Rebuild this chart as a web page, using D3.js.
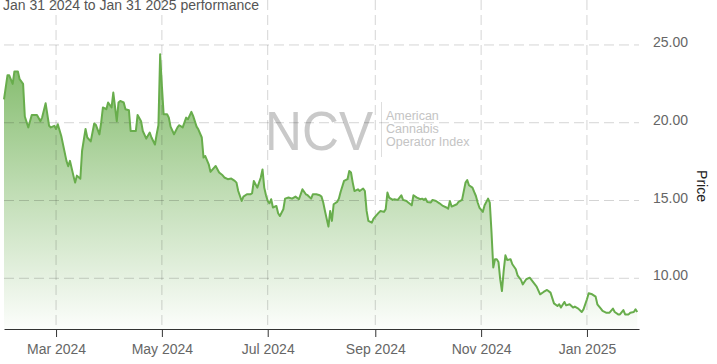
<!DOCTYPE html>
<html>
<head>
<meta charset="utf-8">
<script src="https://cdn.jsdelivr.net/npm/d3@7"></script>
<style>
    body { margin: 0; background: #fff; }
    svg text { font-family: "Liberation Sans", Arial, sans-serif; }
    .tick-label { font-size: 14px; fill: #666; }
    .grid-line { stroke: #000; stroke-opacity: 0.17; stroke-dasharray: 10,5; }
</style>
</head>
<body>
<div id="priceChartDiv"></div>
<script>
const titleText = 'Jan 31 2024 to Jan 31 2025 performance';
const yLabel = 'Price';
const watermarkTitle = 'NCV';
const watermarkLines = ['American', 'Cannabis', 'Operator Index'];

const priceTicks = [10, 15, 20, 25];
const monthTicks = ['2024-03-01', '2024-05-01', '2024-07-01', '2024-09-01', '2024-11-01', '2025-01-01'];
const dateRange = ['2024-01-31', '2025-01-31'];

const dates = [
    '2024-01-31', '2024-02-02', '2024-02-03', '2024-02-05', '2024-02-06', '2024-02-08', '2024-02-09', '2024-02-11',
    '2024-02-12', '2024-02-14', '2024-02-16', '2024-02-19', '2024-02-21', '2024-02-22', '2024-02-24', '2024-02-26',
    '2024-02-27', '2024-02-29', '2024-03-01', '2024-03-02', '2024-03-04', '2024-03-07', '2024-03-08', '2024-03-09',
    '2024-03-11', '2024-03-12', '2024-03-13', '2024-03-15', '2024-03-16', '2024-03-18', '2024-03-19', '2024-03-21',
    '2024-03-23', '2024-03-24', '2024-03-26', '2024-03-27', '2024-03-28', '2024-03-30', '2024-03-31', '2024-04-02',
    '2024-04-03', '2024-04-05', '2024-04-06', '2024-04-07', '2024-04-09', '2024-04-10', '2024-04-12', '2024-04-13',
    '2024-04-16', '2024-04-17', '2024-04-19', '2024-04-20', '2024-04-22', '2024-04-24', '2024-04-25', '2024-04-27',
    '2024-04-28', '2024-04-29', '2024-04-30', '2024-05-01', '2024-05-02', '2024-05-04', '2024-05-05', '2024-05-06',
    '2024-05-08', '2024-05-10', '2024-05-11', '2024-05-13', '2024-05-15', '2024-05-16', '2024-05-18', '2024-05-19',
    '2024-05-21', '2024-05-22', '2024-05-24', '2024-05-25', '2024-05-26', '2024-05-28', '2024-05-29', '2024-05-31',
    '2024-06-01', '2024-06-03', '2024-06-05', '2024-06-06', '2024-06-08', '2024-06-10', '2024-06-12', '2024-06-13',
    '2024-06-14', '2024-06-16', '2024-06-17', '2024-06-19', '2024-06-21', '2024-06-22', '2024-06-23', '2024-06-25',
    '2024-06-27', '2024-06-28', '2024-06-29', '2024-06-30', '2024-07-01', '2024-07-02', '2024-07-03', '2024-07-04',
    '2024-07-06', '2024-07-07', '2024-07-08', '2024-07-10', '2024-07-11', '2024-07-13', '2024-07-15', '2024-07-17',
    '2024-07-19', '2024-07-21', '2024-07-23', '2024-07-24', '2024-07-26', '2024-07-27', '2024-07-29', '2024-07-31',
    '2024-08-01', '2024-08-02', '2024-08-03', '2024-08-05', '2024-08-06', '2024-08-07', '2024-08-08', '2024-08-10',
    '2024-08-11', '2024-08-12', '2024-08-14', '2024-08-16', '2024-08-17', '2024-08-18', '2024-08-19', '2024-08-20',
    '2024-08-22', '2024-08-23', '2024-08-25', '2024-08-26', '2024-08-27', '2024-08-28', '2024-08-30', '2024-08-31',
    '2024-09-01', '2024-09-03', '2024-09-04', '2024-09-06', '2024-09-07', '2024-09-08', '2024-09-09', '2024-09-11',
    '2024-09-12', '2024-09-14', '2024-09-16', '2024-09-17', '2024-09-19', '2024-09-20', '2024-09-22', '2024-09-23',
    '2024-09-25', '2024-09-27', '2024-09-28', '2024-09-29', '2024-09-30', '2024-10-01', '2024-10-03', '2024-10-04',
    '2024-10-06', '2024-10-08', '2024-10-10', '2024-10-12', '2024-10-13', '2024-10-14', '2024-10-15', '2024-10-18',
    '2024-10-19', '2024-10-21', '2024-10-23', '2024-10-24', '2024-10-25', '2024-10-27', '2024-10-28', '2024-10-29',
    '2024-10-30', '2024-10-31', '2024-11-02', '2024-11-03', '2024-11-05', '2024-11-06', '2024-11-07', '2024-11-08',
    '2024-11-09', '2024-11-10', '2024-11-11', '2024-11-12', '2024-11-13', '2024-11-14', '2024-11-15', '2024-11-16',
    '2024-11-18', '2024-11-19', '2024-11-21', '2024-11-22', '2024-11-24', '2024-11-25', '2024-11-27', '2024-11-29',
    '2024-12-02', '2024-12-03', '2024-12-05', '2024-12-07', '2024-12-09', '2024-12-11', '2024-12-13', '2024-12-15',
    '2024-12-16', '2024-12-17', '2024-12-19', '2024-12-20', '2024-12-22', '2024-12-24', '2024-12-25', '2024-12-27',
    '2024-12-29', '2024-12-30', '2025-01-01', '2025-01-02', '2025-01-04', '2025-01-06', '2025-01-07', '2025-01-09',
    '2025-01-10', '2025-01-12', '2025-01-14', '2025-01-16', '2025-01-17', '2025-01-19', '2025-01-20', '2025-01-22',
    '2025-01-23', '2025-01-25', '2025-01-26', '2025-01-28', '2025-01-29', '2025-01-30'
];

const prices = [
    21.5, 23.05, 23.05, 22.5, 23.3, 23.3, 22.8, 22.5,
    20.4, 19.7, 20.5, 20.5, 20.1, 20.35, 21.25, 19.8,
    19.7, 19.8, 19.6, 19.9, 19.15, 17.55, 17.2, 17.55,
    16.6, 16.15, 16.6, 16.4, 18.2, 19.6, 19.05, 18.8,
    19.95, 19.85, 19.25, 20.0, 20.98, 20.87, 21.3, 20.98,
    21.94, 20.1, 21.3, 21.4, 21.3, 20.87, 20.8, 19.47,
    19.47, 20.5, 20.1, 19.47, 18.98, 19.37, 19.05, 18.6,
    19.26, 19.84, 24.4, 22.37, 20.55, 20.55, 20.33, 19.75,
    19.26, 19.7, 19.84, 19.7, 20.33, 20.22, 20.7, 20.44,
    19.75, 19.58, 19.05, 17.76, 17.86, 17.33, 16.84, 17.1,
    17.22, 16.8, 16.62, 16.48, 16.37, 16.41, 16.26, 16.15,
    15.61, 14.97, 15.25, 15.4, 15.4, 15.47, 16.26, 15.83,
    16.48, 17.0, 15.83, 15.34, 14.97, 14.82, 15.08, 14.55,
    14.65, 14.18, 14.0, 14.44, 15.12, 15.19, 15.12, 15.25,
    15.08, 15.72, 15.4, 15.34, 15.12, 15.4, 15.4, 15.34,
    15.25, 14.87, 14.33, 13.32, 14.33, 13.69, 14.76, 14.91,
    15.12, 15.55, 16.26, 16.37, 16.9, 16.8, 16.15, 15.61,
    15.72, 15.61, 15.77, 15.61, 14.33, 13.69, 13.58, 13.84,
    13.97, 14.22, 14.33, 14.27, 14.44, 15.51, 15.19, 15.04,
    15.08, 15.04, 15.34, 15.04, 14.97, 14.87, 14.69, 15.34,
    15.19, 15.08, 15.12, 15.04, 15.12, 14.91, 14.87, 15.04,
    14.97, 14.82, 14.65, 14.55, 14.48, 14.97, 14.61, 14.76,
    14.91, 15.04, 16.15, 16.32, 15.98, 15.83, 15.55, 15.29,
    14.87, 14.55, 14.27, 14.69, 15.12, 14.87, 12.94, 10.69,
    11.22, 11.22, 11.05, 9.94, 9.18, 10.47, 11.48, 11.18,
    11.22, 10.9, 10.58, 10.19, 9.89, 9.61, 9.94, 10.04,
    9.61, 9.47, 8.97, 9.12, 9.25, 9.08, 8.39, 8.22,
    8.33, 8.12, 8.48, 8.26, 8.33, 8.12, 8.18, 8.05,
    7.83, 8.0, 8.65, 9.04, 8.97, 8.82, 8.33, 8.05,
    7.9, 7.79, 7.79, 8.05, 7.83, 7.68, 7.68, 7.96,
    7.68, 7.68, 7.79, 7.83, 8.0, 7.83
];

/**
 * Area chart of the index price over one year
 */
class PriceChart {
    constructor() {
        this.width = 717;
        this.height = 364;
        this.plot = { left: 4, right: 639, top: 0, bottom: 329 };
        this.lineColor = '#68ad4c';

        let parse = d3.timeParse('%Y-%m-%d');
        this.data = dates.map((d, i) => ({ date: parse(d), value: prices[i] }));
        this.months = monthTicks.map(parse);
        this.xDomain = dateRange.map(parse);

        this.drawPlot();
    }

    drawPlot() {
        this.svg = d3.select('#priceChartDiv')
            .append('svg')
            .attr('width', this.width)
            .attr('height', this.height);

        this.xScale = d3.scaleTime()
            .domain(this.xDomain)
            .range([this.plot.left, this.plot.right]);
        this.yScale = d3.scaleLinear()
            .domain([6.74, 27.89])
            .range([this.plot.bottom, this.plot.top]);

        let that = this;

        //gradient for the area
        let grad = this.svg.append('defs').append('linearGradient')
            .attr('id', 'area-gradient')
            .attr('gradientUnits', 'userSpaceOnUse')
            .attr('x1', 0).attr('x2', 0)
            .attr('y1', this.yScale(24.5))
            .attr('y2', this.plot.bottom);
        grad.append('stop').attr('offset', 0).attr('stop-color', this.lineColor).attr('stop-opacity', 0.85);
        grad.append('stop').attr('offset', 0.5).attr('stop-color', this.lineColor).attr('stop-opacity', 0.42);
        grad.append('stop').attr('offset', 1).attr('stop-color', this.lineColor).attr('stop-opacity', 0.02);

        //watermark
        let mark = this.svg.append('g').attr('id', 'watermark');
        mark.append('text')
            .text(watermarkTitle)
            .attr('x', 265)
            .attr('y', 150)
            .attr('textLength', 108)
            .attr('lengthAdjust', 'spacingAndGlyphs')
            .style('font-size', '55px')
            .attr('fill', '#c9c9c9');
        mark.append('line')
            .attr('x1', 381.5).attr('x2', 381.5)
            .attr('y1', 102).attr('y2', 157)
            .attr('stroke', '#dedede');
        mark.selectAll('text.sub')
            .data(watermarkLines)
            .enter().append('text')
            .classed('sub', true)
            .text(d => d)
            .attr('x', 386)
            .attr('y', (d, i) => 120 + i * 13)
            .style('font-size', '12.5px')
            .attr('fill', '#c4c4c4');

        //area + line
        let areaFn = d3.area()
            .x(d => that.xScale(d.date))
            .y0(this.plot.bottom)
            .y1(d => that.yScale(d.value));
        let lineFn = d3.line()
            .x(d => that.xScale(d.date))
            .y(d => that.yScale(d.value));

        this.svg.append('path')
            .attr('d', areaFn(this.data))
            .attr('fill', 'url(#area-gradient)');

        //grid lines
        let grid = this.svg.append('g').attr('id', 'grid');
        grid.selectAll('line.vgrid')
            .data(this.months)
            .enter().append('line')
            .classed('grid-line', true)
            .attr('x1', d => that.xScale(d)).attr('x2', d => that.xScale(d))
            .attr('y1', this.plot.top).attr('y2', this.plot.bottom);
        grid.selectAll('line.hgrid')
            .data(priceTicks)
            .enter().append('line')
            .classed('grid-line', true)
            .attr('x1', this.plot.left).attr('x2', this.plot.right)
            .attr('y1', d => that.yScale(d)).attr('y2', d => that.yScale(d));

        this.svg.append('path')
            .attr('d', lineFn(this.data))
            .attr('fill', 'none')
            .attr('stroke', this.lineColor)
            .attr('stroke-width', 2)
            .attr('stroke-linejoin', 'round');

        //x axis
        let xAxis = d3.axisBottom(this.xScale)
            .tickValues(this.months)
            .tickFormat(d3.timeFormat('%b %Y'))
            .tickSizeInner(8)
            .tickSizeOuter(0)
            .tickPadding(7);
        let xg = this.svg.append('g')
            .attr('transform', `translate(0, ${this.plot.bottom})`)
            .call(xAxis);
        xg.select('.domain').attr('stroke', '#333');
        xg.selectAll('.tick line').attr('stroke', '#333');
        xg.selectAll('.tick text')
            .classed('tick-label', true)
            .attr('font-family', null)
            .attr('font-size', null);

        //y labels on the right
        this.svg.append('g').selectAll('text')
            .data(priceTicks)
            .enter().append('text')
            .classed('tick-label', true)
            .text(d3.format('.2f'))
            .attr('x', 653)
            .attr('y', d => that.yScale(d) + 2);

        this.svg.append('text')
            .text(yLabel)
            .attr('text-anchor', 'middle')
            .attr('transform', 'translate(696.5, 186) rotate(90)')
            .style('font-size', '14px')
            .attr('fill', '#222');

        this.svg.append('text')
            .text(titleText)
            .attr('x', 3)
            .attr('y', 10)
            .style('font-size', '14px')
            .attr('fill', '#555');
    }
}

new PriceChart();
</script>
</body>
</html>
